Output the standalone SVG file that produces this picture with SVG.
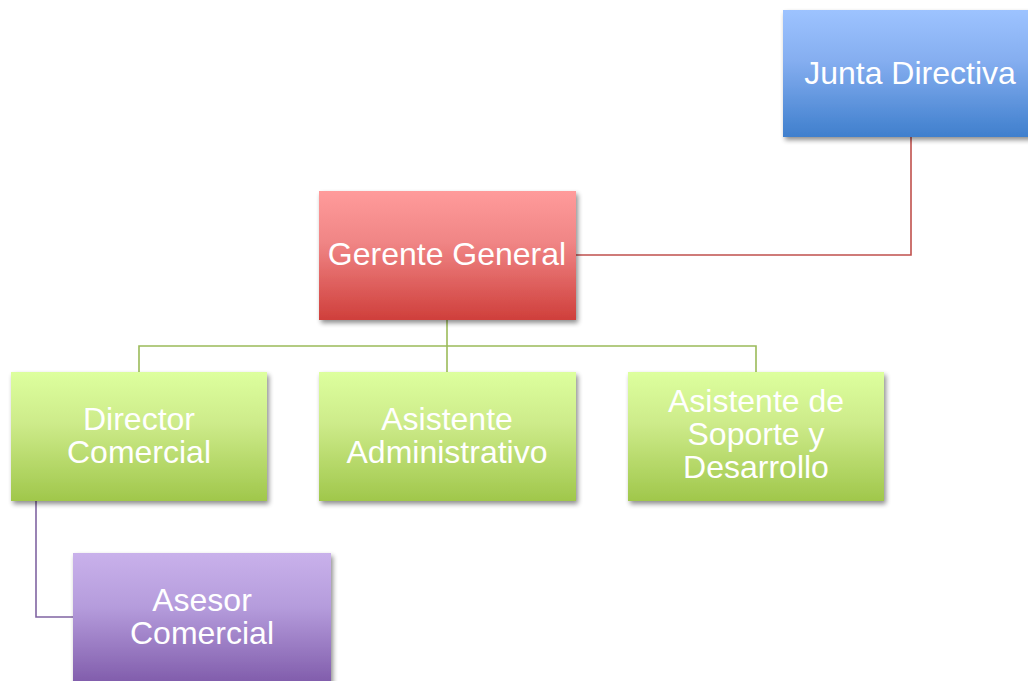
<svg xmlns="http://www.w3.org/2000/svg" width="1028" height="681" viewBox="0 0 1028 681">
  <defs>
    <linearGradient id="gBlue" x1="0" y1="0" x2="0" y2="1">
      <stop offset="0" stop-color="#9DC3FF"/>
      <stop offset="0.4" stop-color="#85AEF0"/>
      <stop offset="1" stop-color="#3F7FCD"/>
    </linearGradient>
    <linearGradient id="gRed" x1="0" y1="0" x2="0" y2="1">
      <stop offset="0" stop-color="#FF9B9B"/>
      <stop offset="0.4" stop-color="#F08585"/>
      <stop offset="1" stop-color="#CF3F3B"/>
    </linearGradient>
    <linearGradient id="gGreen" x1="0" y1="0" x2="0" y2="1">
      <stop offset="0" stop-color="#DDFF9E"/>
      <stop offset="0.4" stop-color="#CDEB8A"/>
      <stop offset="1" stop-color="#A0C74B"/>
    </linearGradient>
    <linearGradient id="gPurple" x1="0" y1="0" x2="0" y2="1">
      <stop offset="0" stop-color="#C9B1EB"/>
      <stop offset="0.4" stop-color="#B59CDC"/>
      <stop offset="1" stop-color="#7D58A8"/>
    </linearGradient>
    <filter id="shadow" x="-10%" y="-10%" width="125%" height="130%">
      <feGaussianBlur in="SourceAlpha" stdDeviation="2.5"/>
      <feOffset dx="2" dy="3" result="b"/>
      <feComponentTransfer><feFuncA type="linear" slope="0.45"/></feComponentTransfer>
      <feMerge><feMergeNode/><feMergeNode in="SourceGraphic"/></feMerge>
    </filter>
  </defs>
  <style>
    .lbl { font-family: "Liberation Sans", Arial, sans-serif; font-size: 32px; fill: #FFFFFF; text-anchor: middle; }
    .conn { fill: none; stroke-width: 1.6; }
    .red { stroke: #C0504D; }
    .green { stroke: #9BBB59; }
    .purple { stroke: #8064A2; }
  </style>
  <rect width="1028" height="681" fill="#FFFFFF"/>

  <g id="connectors">
    <polyline class="conn red" points="911,137 911,255 576,255"/>
    <polyline class="conn green" points="447,320 447,346"/>
    <polyline class="conn green" points="139,372 139,346 756,346 756,372"/>
    <polyline class="conn green" points="447,346 447,372"/>
    <polyline class="conn purple" points="36,501 36,617 73,617"/>
  </g>

  <g id="junta-directiva">
    <rect x="783" y="10" width="250" height="127" fill="url(#gBlue)" filter="url(#shadow)"/>
    <text class="lbl" x="910" y="84">Junta Directiva</text>
  </g>

  <g id="gerente-general">
    <rect x="319" y="191" width="257" height="129" fill="url(#gRed)" filter="url(#shadow)"/>
    <text class="lbl" x="447" y="265">Gerente General</text>
  </g>

  <g id="director-comercial">
    <rect x="11" y="372" width="256" height="129" fill="url(#gGreen)" filter="url(#shadow)"/>
    <text class="lbl" x="139" y="430">Director</text>
    <text class="lbl" x="139" y="463">Comercial</text>
  </g>

  <g id="asistente-administrativo">
    <rect x="319" y="372" width="257" height="129" fill="url(#gGreen)" filter="url(#shadow)"/>
    <text class="lbl" x="447" y="430">Asistente</text>
    <text class="lbl" x="447" y="463">Administrativo</text>
  </g>

  <g id="asistente-soporte">
    <rect x="628" y="372" width="256" height="129" fill="url(#gGreen)" filter="url(#shadow)"/>
    <text class="lbl" x="756" y="412">Asistente de</text>
    <text class="lbl" x="756" y="445">Soporte y</text>
    <text class="lbl" x="756" y="478">Desarrollo</text>
  </g>

  <g id="asesor-comercial">
    <rect x="73" y="553" width="258" height="135" fill="url(#gPurple)" filter="url(#shadow)"/>
    <text class="lbl" x="202" y="611">Asesor</text>
    <text class="lbl" x="202" y="644">Comercial</text>
  </g>
</svg>
